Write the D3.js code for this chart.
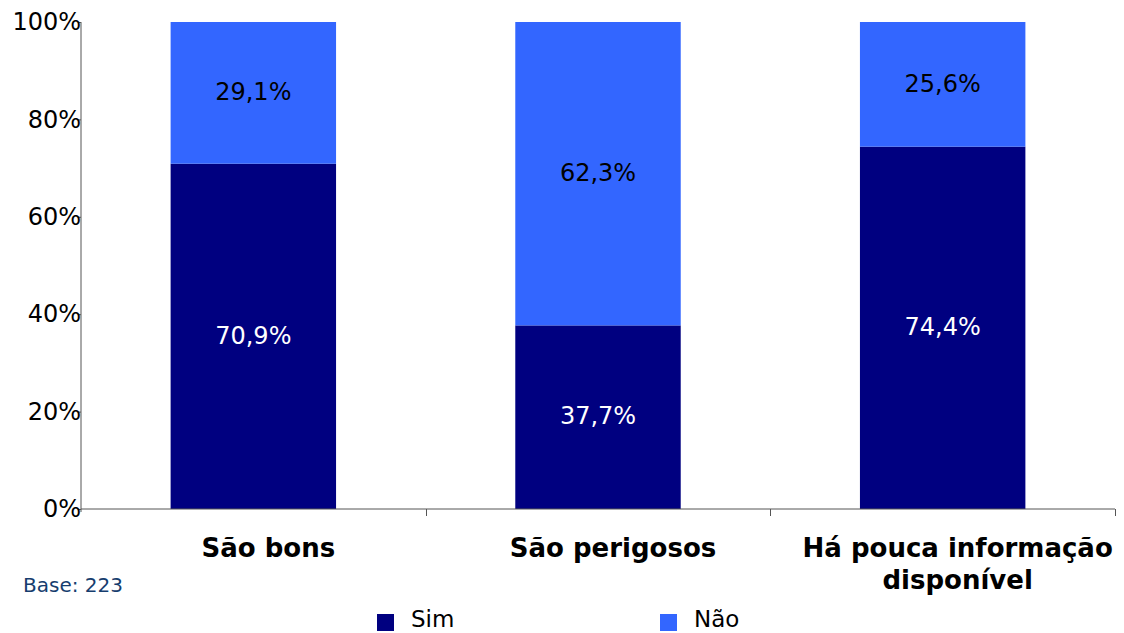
<!DOCTYPE html>
<html><head><meta charset="utf-8">
<script src="https://cdn.jsdelivr.net/npm/d3@7"></script>
<style>body{margin:0;background:#fff}svg{display:block}</style>
</head><body>
<svg id="c" width="1124" height="633"></svg>
<script>
const categories = ["São bons", "São perigosos", "Há pouca informação disponível"];
const categoryLines = [["São bons"], ["São perigosos"], ["Há pouca informação", "disponível"]];
const seriesNames = ["Sim", "Não"];
const sim = [70.9, 37.7, 74.4];
const nao = [29.1, 62.3, 25.6];
const simLabels = ["70,9%", "37,7%", "74,4%"];
const naoLabels = ["29,1%", "62,3%", "25,6%"];
const yTicks = [0, 20, 40, 60, 80, 100];
const colors = ["#000080", "#3366FF"];

const svg = d3.select("#c");
const font = "DejaVu Sans, Verdana, sans-serif";
const x = d3.scaleBand().domain(categories).range([81, 1115]).paddingInner(0.52).paddingOuter(0.26);
const y = d3.scaleLinear().domain([0, 100]).range([509, 22]);

const data = categories.map((c, i) => ({c, sim: sim[i], nao: nao[i], sl: simLabels[i], nl: naoLabels[i]}));

// bars
const g = svg.append("g");
data.forEach(d => {
  g.append("rect").attr("x", x(d.c)).attr("width", x.bandwidth())
    .attr("y", y(d.sim)).attr("height", y(0) - y(d.sim)).attr("fill", colors[0]);
  g.append("rect").attr("x", x(d.c)).attr("width", x.bandwidth())
    .attr("y", y(d.sim + d.nao)).attr("height", y(d.sim) - y(d.sim + d.nao)).attr("fill", colors[1]);
  g.append("text").attr("x", x(d.c) + x.bandwidth() / 2).attr("y", y(d.sim / 2))
    .attr("dy", "0.3em").attr("text-anchor", "middle").attr("fill", "#fff")
    .style("font", `24px ${font}`).text(d.sl);
  g.append("text").attr("x", x(d.c) + x.bandwidth() / 2).attr("y", y(d.sim + d.nao / 2))
    .attr("dy", "0.3em").attr("text-anchor", "middle").attr("fill", "#000")
    .style("font", `24px ${font}`).text(d.nl);
});

// y axis
const ya = svg.append("g").attr("transform", "translate(81,0)")
  .call(d3.axisLeft(y).tickValues(yTicks).tickFormat(d => d + "%").tickSize(3).tickPadding(-3));
ya.select(".domain").attr("stroke", "#555").attr("d", "M0,22V512");
ya.selectAll("line").attr("stroke", "#555");
ya.selectAll("text").style("font", `24px ${font}`).attr("fill", "#000");

// x axis
const xa = svg.append("g").attr("transform", "translate(0,509)");
xa.append("line").attr("x1", 81).attr("x2", 1115).attr("stroke", "#555").attr("stroke-width", 1);
const step = x.step();
const start = x(categories[0]) - step * 0.26;
[1, 2, 3].forEach(k => {
  const xx = Math.round(start + step * k) + 0.5;
  xa.append("line").attr("x1", xx).attr("x2", xx).attr("y1", 0).attr("y2", 7).attr("stroke", "#555");
});

// category labels
data.forEach((d, i) => {
  const cx = x(d.c) + x.bandwidth() / 2 + 15;
  const t = svg.append("text").attr("text-anchor", "middle")
    .attr("x", cx).attr("y", 557)
    .style("font", `bold 26px ${font}`).attr("fill", "#000");
  categoryLines[i].forEach((l, j) => t.append("tspan").attr("x", cx).attr("dy", j ? 32 : 0).text(l));
});

// base note
svg.append("text").attr("x", 23).attr("y", 592).style("font", `20px ${font}`).attr("fill", "#163d6e").text("Base: 223");

// legend
const legX = [377, 660];
seriesNames.forEach((s, i) => {
  svg.append("rect").attr("x", legX[i]).attr("y", 614).attr("width", 17).attr("height", 17).attr("fill", colors[i]);
  svg.append("text").attr("x", legX[i] + 34).attr("y", 627).style("font", `23px ${font}`).attr("fill", "#000").text(s);
});
</script>
</body></html>
